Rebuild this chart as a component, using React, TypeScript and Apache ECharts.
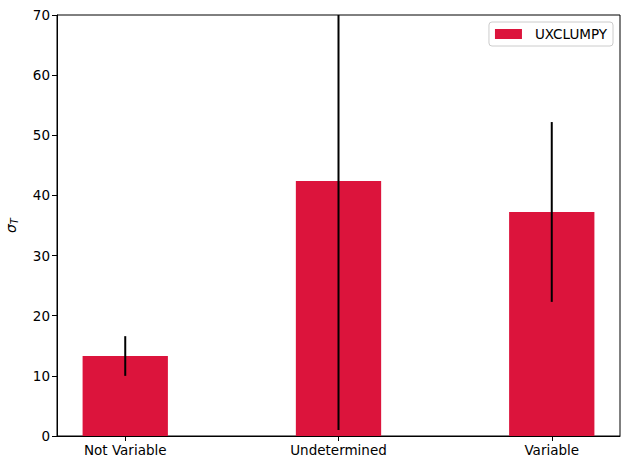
import React, { useEffect, useRef } from "react";
import * as echarts from "echarts";

const categories = ["Not Variable", "Undetermined", "Variable"];
const means = [13.3, 42.4, 37.25];
const errors = [3.3, 41.4, 14.95];
const yTicks = [0, 10, 20, 30, 40, 50, 60, 70];
const seriesName = "UXCLUMPY";

const BAR_HALF = 0.2;
const FONT = "DejaVu Sans";

export default function App() {
  const ref = useRef<HTMLDivElement>(null);
  useEffect(() => {
    const chart = echarts.init(ref.current!, null, { renderer: "svg" });
    const barData = categories.map((_, i) => [i, means[i]]);
    const errData = categories.map((_, i) => [i, means[i] - errors[i], means[i] + errors[i]]);
    chart.setOption({
      animation: false,
      textStyle: { fontFamily: FONT },
      grid: {
        left: 57,
        right: 10,
        top: 15,
        bottom: 34,
        containLabel: false,
        outerBoundsMode: "none",
        show: true,
        borderColor: "#000",
        borderWidth: 1,
        backgroundColor: "transparent",
      },
      legend: {
        right: 17,
        top: 22,
        orient: "vertical",
        padding: [5, 6, 5, 6],
        borderColor: "#cccccc",
        borderWidth: 1,
        borderRadius: 3,
        itemWidth: 27,
        itemHeight: 10,
        textStyle: { fontFamily: FONT, fontSize: 13.5, color: "#000", padding: [0, 0, 0, 8] },
        data: [{ name: seriesName, icon: "rect", itemStyle: { color: "#DC143C" } }],
      },
      xAxis: {
        type: "value",
        min: -0.32,
        max: 2.32,
        splitLine: { show: false },
        axisLine: { show: true, onZero: false, lineStyle: { color: "#000", width: 1 } },
        axisTick: { show: true, customValues: [0, 1, 2], length: 5, lineStyle: { color: "#000" } },
        axisLabel: {
          customValues: [0, 1, 2],
          formatter: (v: number) => categories[Math.round(v)] ?? "",
          color: "#000",
          fontFamily: FONT,
          fontSize: 13.5,
          margin: 7,
        },
      },
      yAxis: {
        type: "value",
        min: 0,
        max: 70,
        interval: 10,
        splitLine: { show: false },
        axisLine: { show: true, onZero: false, lineStyle: { color: "#000", width: 1 } },
        axisTick: { show: true, length: 5, lineStyle: { color: "#000" } },
        axisLabel: {
          color: "#000",
          fontFamily: FONT,
          fontSize: 13.5,
          margin: 7,
          formatter: (v: number) => (yTicks.includes(v) ? String(v) : ""),
        },
        name: "{s|σ}{t|T}",
        nameLocation: "middle",
        nameGap: 38,
        nameRotate: 90,
        nameTextStyle: {
          rich: {
            s: { fontFamily: FONT, fontSize: 14, fontStyle: "italic", color: "#000" },
            t: { fontFamily: FONT, fontSize: 10, fontStyle: "italic", color: "#000", padding: [6, 0, 0, 0] },
          },
        },
      },
      series: [
        {
          name: seriesName,
          type: "custom",
          itemStyle: { color: "#DC143C" },
          data: barData,
          encode: { x: 0, y: 1 },
          renderItem: (params: any, api: any) => {
            const x = api.value(0);
            const v = api.value(1);
            const p1 = api.coord([x - BAR_HALF, v]);
            const p2 = api.coord([x + BAR_HALF, 0]);
            return {
              type: "rect",
              shape: { x: p1[0], y: p1[1], width: p2[0] - p1[0], height: p2[1] - p1[1] },
              style: { fill: "#DC143C" },
            };
          },
        },
        {
          name: "err",
          type: "custom",
          clip: true,
          data: errData,
          encode: { x: 0, y: [1, 2] },
          z: 5,
          renderItem: (params: any, api: any) => {
            const x = api.value(0);
            const p1 = api.coord([x, api.value(1)]);
            const p2 = api.coord([x, api.value(2)]);
            return {
              type: "line",
              shape: { x1: p1[0], y1: p1[1], x2: p2[0], y2: p2[1] },
              style: { stroke: "#000", lineWidth: 2 },
            };
          },
        },
      ],
    });
    return () => chart.dispose();
  }, []);
  return (
    <div
      ref={ref}
      style={{ position: "fixed", left: 0, top: 0, width: 630, height: 470, background: "#fff" }}
    />
  );
}
